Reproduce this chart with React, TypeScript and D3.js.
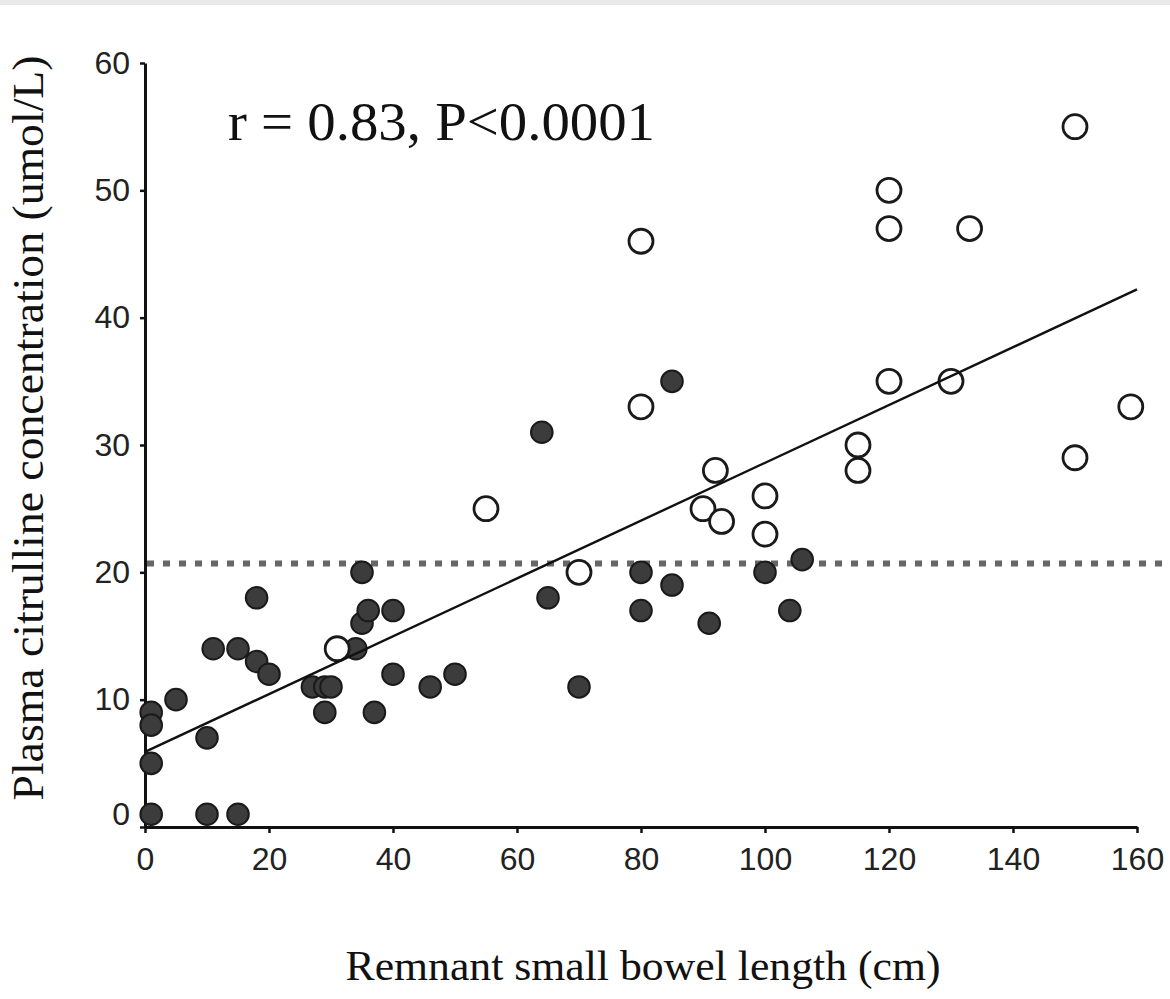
import React, { useEffect, useRef } from 'react';
import * as d3 from 'd3';

// filled circles
const filledLength = [1, 10, 15, 1, 1, 1, 5, 10, 11, 15, 18, 20, 18, 27, 29, 30, 29, 34, 35, 36, 40, 35, 37, 40, 46, 50, 64, 65, 70, 80, 80, 85, 85, 91, 100, 104, 106];
const filledCitrulline = [1, 1, 1, 5, 9, 8, 10, 7, 14, 14, 13, 12, 18, 11, 11, 11, 9, 14, 16, 17, 17, 20, 9, 12, 11, 12, 31, 18, 11, 20, 17, 19, 35, 16, 20, 17, 21];

// open circles
const openLength = [31, 55, 70, 80, 80, 90, 93, 92, 100, 100, 115, 115, 120, 120, 133, 120, 130, 150, 150, 159];
const openCitrulline = [14, 25, 20, 46, 33, 25, 24, 28, 26, 23, 30, 28, 50, 47, 47, 35, 35, 55, 29, 33];

const xTicks = [0, 20, 40, 60, 80, 100, 120, 140, 160];
const yTicks = [0, 10, 20, 30, 40, 50, 60];

const fitIntercept = 5.9;
const fitSlope = 0.227;
const cutoff = 20.7;

const annotation = 'r = 0.83, P<0.0001';
const xTitle = 'Remnant small bowel length (cm)';
const yTitle = 'Plasma citrulline concentration (umol/L)';

function App() {
  const ref = useRef<SVGSVGElement>(null);

  useEffect(() => {
    const width = 1170;
    const height = 999;
    const svg = d3.select(ref.current).attr('width', width).attr('height', height);
    svg.selectAll('*').remove();

    svg.append('rect').attr('width', width).attr('height', height).attr('fill', '#fff');
    svg.append('rect').attr('width', width).attr('height', 5).attr('fill', '#e9e9e9');

    const x = d3.scaleLinear().domain([0, 160]).range([145, 1137]);
    const y = d3.scaleLinear().domain([0, 60]).range([827, 63]);

    // axes
    const gx = svg.append('g')
      .attr('transform', `translate(0, ${y(0)})`)
      .call(d3.axisBottom(x).tickValues(xTicks).tickSize(6).tickPadding(14).tickSizeOuter(0));
    const gy = svg.append('g')
      .attr('transform', `translate(${x(0)}, 0)`)
      .call(d3.axisLeft(y).tickValues(yTicks).tickSize(5).tickPadding(10).tickSizeOuter(0));

    [gx, gy].forEach(g => {
      g.select('.domain').attr('stroke', '#111').attr('stroke-width', 3);
      g.selectAll('.tick line').attr('stroke', '#111').attr('stroke-width', 2.5);
      g.selectAll('.tick text')
        .attr('fill', '#222')
        .style('font-family', '"Liberation Sans", Arial, sans-serif')
        .style('font-size', '32px');
    });
    // the zero label sits a little higher in the original
    gy.selectAll('.tick text').filter((d: any) => d === 0).attr('y', -13);

    // dotted cutoff line
    svg.append('line')
      .attr('x1', x(0) + 2).attr('x2', width)
      .attr('y1', y(cutoff)).attr('y2', y(cutoff))
      .attr('stroke', '#666')
      .attr('stroke-width', 6)
      .attr('stroke-dasharray', '7 9');

    // filled points
    svg.append('g').selectAll('circle')
      .data(filledLength.map((v, i) => [v, filledCitrulline[i]]))
      .enter()
      .append('circle')
      .attr('cx', d => x(d[0]))
      .attr('cy', d => y(d[1]))
      .attr('r', 10.8)
      .attr('fill', '#3c3c3c')
      .attr('stroke', '#1a1a1a')
      .attr('stroke-width', 2);

    // open points
    svg.append('g').selectAll('circle')
      .data(openLength.map((v, i) => [v, openCitrulline[i]]))
      .enter()
      .append('circle')
      .attr('cx', d => x(d[0]))
      .attr('cy', d => y(d[1]))
      .attr('r', 12)
      .attr('fill', '#fff')
      .attr('stroke', '#1a1a1a')
      .attr('stroke-width', 2.8);

    // regression line
    const line = d3.line<number>()
      .x(d => x(d))
      .y(d => y(fitIntercept + fitSlope * d));
    svg.append('path')
      .attr('d', line([0, 160]))
      .attr('fill', 'none')
      .attr('stroke', '#111')
      .attr('stroke-width', 2.4);

    svg.append('text')
      .attr('x', 228).attr('y', 140)
      .style('font-family', '"Liberation Serif", "Times New Roman", serif')
      .style('font-size', '55px')
      .attr('textLength', 427)
      .attr('lengthAdjust', 'spacingAndGlyphs')
      .attr('fill', '#111')
      .text(annotation);

    svg.append('text')
      .attr('x', 643).attr('y', 980)
      .attr('text-anchor', 'middle')
      .style('font-family', '"Liberation Serif", "Times New Roman", serif')
      .style('font-size', '42px')
      .attr('textLength', 595)
      .attr('lengthAdjust', 'spacingAndGlyphs')
      .attr('fill', '#111')
      .text(xTitle);

    svg.append('text')
      .attr('transform', 'translate(43, 428) rotate(-90)')
      .attr('text-anchor', 'middle')
      .style('font-family', '"Liberation Serif", "Times New Roman", serif')
      .style('font-size', '44px')
      .attr('textLength', 745)
      .attr('lengthAdjust', 'spacingAndGlyphs')
      .attr('fill', '#111')
      .text(yTitle);
  }, []);

  return (
    <div>
      <svg ref={ref} style={{ position: 'absolute', left: 0, top: 0 }}></svg>
    </div>
  );
}

export default App;
